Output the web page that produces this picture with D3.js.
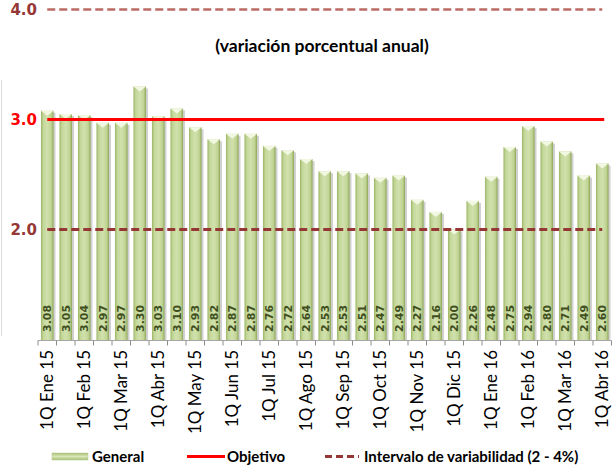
<!DOCTYPE html>
<html>
<head>
<meta charset="utf-8">
<script src="https://cdn.jsdelivr.net/npm/d3@7"></script>
<style>
  body { margin: 0; background: #fff; }
  svg { display: block; }
</style>
</head>
<body>
<svg id="chart" width="616" height="467"></svg>
<script>
// datos
const categories = [
    "1Q Ene 15", "2Q Ene 15", "1Q Feb 15", "2Q Feb 15", "1Q Mar 15", "2Q Mar 15",
    "1Q Abr 15", "2Q Abr 15", "1Q May 15", "2Q May 15", "1Q Jun 15", "2Q Jun 15",
    "1Q Jul 15", "2Q Jul 15", "1Q Ago 15", "2Q Ago 15", "1Q Sep 15", "2Q Sep 15",
    "1Q Oct 15", "2Q Oct 15", "1Q Nov 15", "2Q Nov 15", "1Q Dic 15", "2Q Dic 15",
    "1Q Ene 16", "2Q Ene 16", "1Q Feb 16", "2Q Feb 16", "1Q Mar 16", "2Q Mar 16",
    "1Q Abr 16"
];
const general = [
    3.08, 3.05, 3.04, 2.97, 2.97, 3.30, 3.03, 3.10, 2.93, 2.82, 2.87, 2.87,
    2.76, 2.72, 2.64, 2.53, 2.53, 2.51, 2.47, 2.49, 2.27, 2.16, 2.00, 2.26,
    2.48, 2.75, 2.94, 2.80, 2.71, 2.49, 2.60
];
const objetivo = 3.0;
const intervalo = [2.0, 4.0];
const yTicks = [2.0, 3.0, 4.0];
const title = "(variación porcentual anual)";

const svg = d3.select("#chart");
const defs = svg.append("defs");

// escalas
const x = d3.scaleBand()
    .domain(categories)
    .range([38, 611.5])
    .paddingInner(0.32)
    .paddingOuter(0.16);

const y = d3.scaleLinear()
    .domain([1, 4])
    .range([339.5, 9.5]);

const baseY = 340.5;

// degradado de barras
const grad = defs.append("linearGradient").attr("id", "barGrad")
    .attr("x1", "0%").attr("x2", "100%").attr("y1", "0%").attr("y2", "0%");
[["0%", "#9ab463"], ["18%", "#c3d799"], ["50%", "#d1e1ad"], ["82%", "#c0d494"], ["100%", "#8ea656"]]
    .forEach(s => grad.append("stop").attr("offset", s[0]).attr("stop-color", s[1]));

const legGrad = defs.append("linearGradient").attr("id", "legGrad")
    .attr("x1", "0%").attr("x2", "0%").attr("y1", "0%").attr("y2", "100%");
[["0%", "#a8bf74"], ["50%", "#d8e6b8"], ["100%", "#a8bf74"]]
    .forEach(s => legGrad.append("stop").attr("offset", s[0]).attr("stop-color", s[1]));

// borde izquierdo tenue
svg.append("line")
    .attr("x1", 1.5).attr("x2", 1.5)
    .attr("y1", 80).attr("y2", 336)
    .attr("stroke", "#dcdcdc");

// titulo
svg.append("text")
    .attr("x", 322).attr("y", 52)
    .attr("text-anchor", "middle")
    .attr("font-family", "Lato, sans-serif")
    .attr("font-weight", "bold")
    .attr("font-size", 17.5)
    .attr("fill", "#000")
    .text(title);

// barras
const bars = svg.append("g").attr("class", "bars");

// sombra
bars.selectAll("rect.shadow")
    .data(general)
    .enter()
    .append("rect")
    .attr("class", "shadow")
    .attr("x", (d, i) => x(categories[i]) + 2)
    .attr("y", d => y(d) + 2)
    .attr("width", x.bandwidth())
    .attr("height", d => baseY - y(d) - 2)
    .attr("fill", "#000")
    .attr("opacity", 0.18);

bars.selectAll("rect.bar")
    .data(general)
    .enter()
    .append("rect")
    .attr("class", "bar")
    .attr("x", (d, i) => x(categories[i]))
    .attr("y", d => y(d))
    .attr("width", x.bandwidth())
    .attr("height", d => baseY - y(d))
    .attr("fill", "url(#barGrad)");

// bisel superior
bars.selectAll("path.bevel")
    .data(general)
    .enter()
    .append("path")
    .attr("class", "bevel")
    .attr("d", (d, i) => {
        const x0 = x(categories[i]);
        const w = x.bandwidth();
        const t = y(d);
        return `M${x0},${t}L${x0 + w},${t}L${x0 + w / 2},${t + 5}Z`;
    })
    .attr("fill", "#f2f7e2");

// eje x
const axis = svg.append("g").attr("class", "x-axis");
axis.append("line")
    .attr("x1", x.range()[0]).attr("x2", x.range()[1])
    .attr("y1", baseY).attr("y2", baseY)
    .attr("stroke", "#a6a6a6");

const tickPos = categories.map(c => x(c) - x.step() * x.paddingInner() / 2);
tickPos.push(x.range()[1]);
axis.selectAll("line.tick")
    .data(tickPos)
    .enter()
    .append("line")
    .attr("class", "tick")
    .attr("x1", d => d).attr("x2", d => d)
    .attr("y1", baseY).attr("y2", baseY + 5)
    .attr("stroke", "#8c8c8c");

axis.selectAll("text")
    .data(categories.filter((c, i) => i % 2 === 0))
    .enter()
    .append("text")
    .attr("transform", d => `translate(${x(d) + x.bandwidth() / 2},350) rotate(-90)`)
    .attr("dy", "0.35em")
    .attr("text-anchor", "end")
    .attr("font-family", "Lato, sans-serif")
    .attr("font-size", 17)
    .attr("fill", "#000")
    .text(d => d);

// lineas de referencia
const xFirst = x(categories[0]) + x.bandwidth() / 2;
const xLast = x(categories[categories.length - 1]) + x.bandwidth() / 2;

svg.append("line")
    .attr("x1", xFirst).attr("x2", xLast)
    .attr("y1", y(intervalo[1])).attr("y2", y(intervalo[1]))
    .attr("stroke", "#bb6a64")
    .attr("stroke-width", 2.5)
    .attr("stroke-dasharray", "8,4");

svg.append("line")
    .attr("x1", xFirst).attr("x2", xLast + 2)
    .attr("y1", y(objetivo)).attr("y2", y(objetivo))
    .attr("stroke", "#ff0000")
    .attr("stroke-width", 3);

svg.append("line")
    .attr("x1", xFirst).attr("x2", xLast)
    .attr("y1", y(intervalo[0])).attr("y2", y(intervalo[0]))
    .attr("stroke", "#953735")
    .attr("stroke-width", 3)
    .attr("stroke-dasharray", "8,4");

// etiquetas de valor (verticales)
svg.append("g").selectAll("text")
    .data(general)
    .enter()
    .append("text")
    .attr("x", 0).attr("y", 0)
    .attr("transform", (d, i) => "translate(" + (x(categories[i]) + x.bandwidth() / 2) + ",332) rotate(-90)")
    .attr("dy", "0.36em")
    .attr("text-anchor", "start")
    .attr("font-family", "DejaVu Sans, sans-serif")
    .attr("font-weight", "bold")
    .attr("font-size", 11)
    .attr("fill", "#3f4f1e")
    .text(d => d.toFixed(2));

// eje y
svg.append("g").selectAll("text")
    .data(yTicks)
    .enter()
    .append("text")
    .attr("x", 37)
    .attr("y", d => y(d))
    .attr("dy", "0.36em")
    .attr("text-anchor", "end")
    .attr("font-family", "DejaVu Sans, sans-serif")
    .attr("font-weight", "bold")
    .attr("font-size", 15)
    .attr("fill", d => d === objetivo ? "#ff0000" : "#953735")
    .text(d => d.toFixed(1));

// leyenda
const legend = svg.append("g").attr("class", "legend")
    .attr("font-family", "Lato, sans-serif")
    .attr("font-weight", "bold")
    .attr("font-size", 15)
    .attr("fill", "#000");

legend.append("rect")
    .attr("x", 52).attr("y", 453)
    .attr("width", 36).attr("height", 7)
    .attr("fill", "url(#legGrad)")
    .attr("stroke", "#b5c98a")
    .attr("stroke-width", 0.5);
legend.append("text").attr("x", 92).attr("y", 462).text("General");

legend.append("line")
    .attr("x1", 187).attr("x2", 225)
    .attr("y1", 456.5).attr("y2", 456.5)
    .attr("stroke", "#ff0000").attr("stroke-width", 3);
legend.append("text").attr("x", 227).attr("y", 462).text("Objetivo");

legend.append("line")
    .attr("x1", 325).attr("x2", 359)
    .attr("y1", 456.5).attr("y2", 456.5)
    .attr("stroke", "#953735").attr("stroke-width", 3)
    .attr("stroke-dasharray", "7,4");
legend.append("text").attr("x", 364).attr("y", 462).text("Intervalo de variabilidad (2 - 4%)");
</script>
</body>
</html>
